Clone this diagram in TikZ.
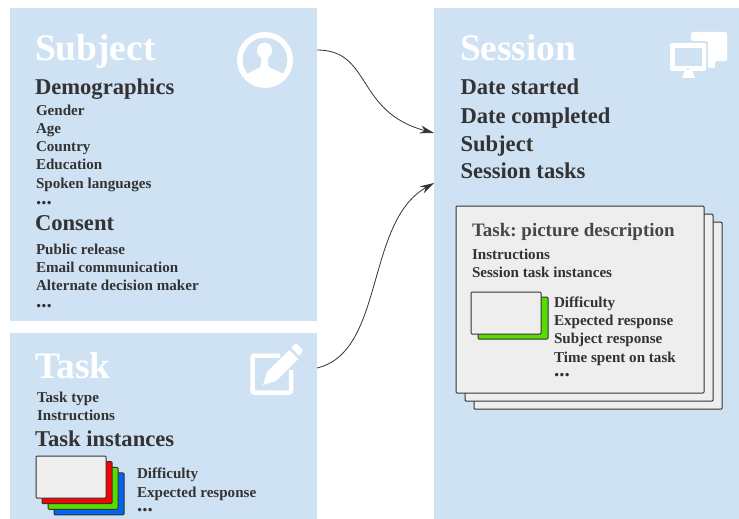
\documentclass[tikz,border=0pt]{standalone}
\usepackage{xcolor}
\usepackage{fontspec}
\setmainfont{Liberation Serif}
\usepackage{tikz}
\usetikzlibrary{arrows.meta}
\definecolor{panelblue}{HTML}{CFE2F3}
\definecolor{cardgray}{HTML}{EEEEEE}
\definecolor{inkgray}{HTML}{333333}
\definecolor{cardgreen}{HTML}{55DD00}
\definecolor{cardblue}{HTML}{0066EE}
\newcommand{\moredots}{{\fontsize{21}{15}\selectfont ...}}

\begin{document}
\begin{tikzpicture}[
		x=1pt, y=-1pt,
		line width=0.8pt,
		every node/.style={inner sep=0pt, outer sep=0pt},
		panel/.style={fill=panelblue, draw=none, anchor=north west},
		title/.style={anchor=base west, text=white, font=\bfseries\fontsize{37.4}{37}\selectfont},
		heading/.style={anchor=base west, text=inkgray, font=\bfseries\fontsize{22.6}{22.5}\selectfont},
		item/.style={anchor=base west, text=inkgray, font=\bfseries\fontsize{15.1}{15}\selectfont},
		card/.style={fill=cardgray, draw=inkgray, rounded corners=1pt, line width=1pt},
		link/.style={draw=inkgray, line width=0.8pt, -{Stealth[length=14pt, width=8pt]}}
		]
	\useasboundingbox (0, 0) rectangle (739, 519);

	% Panels
	\node[panel, minimum width=307pt, minimum height=313pt] (subject) at (10, 8) {};
	\node[panel, minimum width=307pt, minimum height=186pt] (task) at (10, 333) {};
	\node[panel, minimum width=305pt, minimum height=511pt] (session) at (434, 8) {};

	% Subject
	\node[title] (subjecttitle) at (35, 60) {Subject};
	\node[heading] (demographics) at (35, 94) {Demographics};
	\foreach \i/\y/\label in {1/115/Gender, 2/133/Age, 3/151/Country, 4/169/Education, 5/188/Spoken languages, 6/204/\moredots}{
		\node[item] (demo\i) at (36, \y) {\label};
	}
	\node[heading] (consent) at (35, 230) {Consent};
	\foreach \i/\y/\label in {1/254/Public release, 2/272/Email communication, 3/290/Alternate decision maker, 4/307/\moredots}{
		\node[item] (consent\i) at (36, \y) {\label};
	}

	% Task
	\node[title] (tasktitle) at (35, 378) {Task};
	\node[item] (tasktype) at (37, 402) {Task type};
	\node[item] (taskinstr) at (37, 420) {Instructions};
	\node[heading] (taskinst) at (35, 446) {Task instances};
	\foreach \d/\c in {18/cardblue, 12/cardgreen, 6/red}{
		\draw[card, fill=\c] (36+\d, 456+\d*0.94) rectangle (106+\d, 498+\d*0.94);
	}
	\draw[card] (36, 456) rectangle (106, 498);
	\foreach \i/\y/\label in {1/478/Difficulty, 2/497/Expected response, 3/511/\moredots}{
		\node[item] (inst\i) at (137, \y) {\label};
	}

	% Session
	\node[title] (sessiontitle) at (460, 60) {Session};
	\foreach \i/\y/\label in {1/94/Date started, 2/123/Date completed, 3/151/Subject, 4/178/Session tasks}{
		\node[heading] (sess\i) at (460.5, \y) {\label};
	}

	% Session task cards
	\foreach \d in {18, 9}{
		\draw[card] (456+\d, 206+\d*0.9) rectangle (704+\d, 393+\d*0.9);
	}
	\draw[card] (456, 206) rectangle (704, 393);
	\node[anchor=base west, text=inkgray!90, font=\bfseries\fontsize{19}{19}\selectfont] (cardtitle) at (472, 236) {\frenchspacing Task: picture description};
	\node[item] (cardinstr) at (472, 259) {Instructions};
	\node[item] (cardinst) at (472, 277) {Session task instances};
	\draw[card, fill=cardgreen] (478, 297) rectangle (548, 339);
	\draw[card] (471, 292) rectangle (541, 334);
	\foreach \i/\y/\label in {1/307/Difficulty, 2/325/Expected response, 3/343/Subject response, 4/362/Time spent on task, 5/376/\moredots}{
		\node[item] (resp\i) at (554, \y) {\label};
	}

	% Person icon
	\begin{scope}
		\clip (265, 60) circle (25);
		\fill[white] (264.5, 50.5) ellipse (7.5 and 8);
		\fill[white, rounded corners=3pt] (236, 96) -- (236, 82) -- (250, 72) -- (261, 67) -- (261, 52) -- (268, 52) -- (268, 67) -- (280, 72) -- (294, 82) -- (294, 96) -- cycle;
	\end{scope}
	\draw[white, line width=5.5pt] (265, 60) circle (25.2);

	% Edit icon
	\draw[white, line width=4.5pt, rounded corners=2pt] (280, 355.5) -- (252.5, 355.5) -- (252.5, 392.5) -- (291, 392.5) -- (291, 370);
	\fill[white] (263, 385) -- (267, 372) -- (289, 350) -- (298, 359) -- (276, 381) -- cycle;
	\fill[white, rounded corners=1pt] (291, 347.5) -- (296, 343) -- (303, 350.5) -- (299.5, 356) -- cycle;

	% Monitors icon
	\fill[white, rounded corners=1.5pt] (691, 32) -- (727, 32) -- (727, 61) -- (715, 61) -- (715, 68) -- (708, 68) -- (708, 41) -- (691, 41) -- cycle;
	\fill[white, rounded corners=1.5pt] (670, 43) rectangle (706, 71);
	\fill[panelblue] (675, 48) rectangle (702, 66);
	\fill[panelblue] (688, 69) circle (1.2);
	\fill[white] (685, 70) -- (692, 70) -- (695, 78) -- (682, 78) -- cycle;

	% Links
	\coordinate (subjectout) at (317, 50);
	\coordinate (taskout) at (317, 368);
	\coordinate (sessionina) at (434, 133);
	\coordinate (sessioninb) at (434, 183);
	\draw[link] (subjectout) .. controls (372, 50) and (355, 112) .. (sessionina);
	\draw[link] (taskout) .. controls (385, 352) and (365, 222) .. (sessioninb);

	\end{tikzpicture}
\end{document}
